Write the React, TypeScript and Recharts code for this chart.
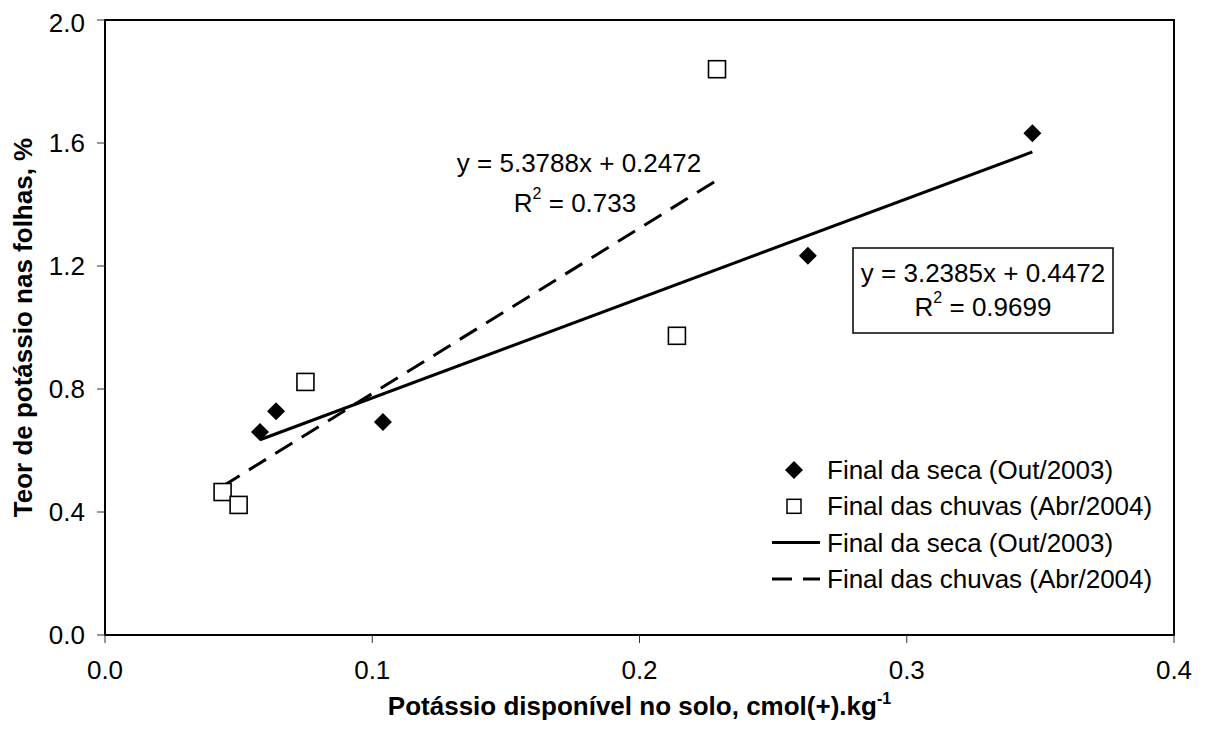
import { ComposedChart, Scatter, XAxis, YAxis, ReferenceArea } from 'recharts'

// leaf K (%) vs soil available K, two sampling dates
const secaX = [0.058, 0.064, 0.104, 0.263, 0.347]
const secaY = [0.66, 0.728, 0.693, 1.233, 1.632]
const chuvasX = [0.044, 0.05, 0.075, 0.214, 0.229]
const chuvasY = [0.465, 0.423, 0.823, 0.973, 1.84]

// linear trend coefficients [slope, intercept, r2]
const secaFit = [3.2385, 0.4472, 0.9699]
const chuvasFit = [5.3788, 0.2472, 0.733]

const xTicks = [0, 0.1, 0.2, 0.3, 0.4]
const yTicks = [0, 0.4, 0.8, 1.2, 1.6, 2.0]

const legendItems = [
  { label: 'Final da seca (Out/2003)', kind: 'diamond' },
  { label: 'Final das chuvas (Abr/2004)', kind: 'square' },
  { label: 'Final da seca (Out/2003)', kind: 'solid' },
  { label: 'Final das chuvas (Abr/2004)', kind: 'dashed' },
]

const FONT = '"Liberation Sans", Arial, sans-serif'
const FS = 26
const DASH = '20 11'

const toPoints = (xs: number[], ys: number[]) => xs.map((x, i) => ({ x, y: ys[i] }))

const trend = (xs: number[], fit: number[]) => {
  const lo = Math.min(...xs)
  const hi = Math.max(...xs)
  return [lo, hi].map((x) => ({ x, y: fit[0] * x + fit[1] }))
}

const Diamond = (props: any) => {
  const { cx, cy } = props
  const r = 9
  return <polygon points={`${cx},${cy - r} ${cx + r},${cy} ${cx},${cy + r} ${cx - r},${cy}`} fill="#000" />
}

const Square = (props: any) => {
  const { cx, cy } = props
  return <rect x={cx - 8.5} y={cy - 8.5} width={17} height={17} fill="#fff" stroke="#000" strokeWidth={1.6} />
}

const NoShape = () => <g />

const XTitle = (props: any) => {
  const { viewBox } = props
  const cx = viewBox.x + viewBox.width / 2
  return (
    <text x={cx} y={viewBox.y + 80} textAnchor="middle" fontFamily={FONT} fontWeight="bold" fontSize={FS} fill="#000">
      Potássio disponível no solo, cmol(+).kg
      <tspan fontSize={16} dy={-11}>-1</tspan>
    </text>
  )
}

const YTitle = (props: any) => {
  const { viewBox } = props
  const cy = viewBox.y + viewBox.height / 2
  const x = 15
  return (
    <text x={x} y={cy} transform={`rotate(-90 ${x} ${cy})`} textAnchor="middle" dominantBaseline="central"
      fontFamily={FONT} fontWeight="bold" fontSize={FS} fill="#000">
      Teor de potássio nas folhas, %
    </text>
  )
}

const LegendBox = () => (
  <g transform="translate(757, 442)">
    {legendItems.map((it, i) => {
      const y = 20 + i * 36.3
      return (
        <g key={i}>
          {it.kind === 'diamond' && <Diamond cx={29} cy={y} />}
          {it.kind === 'square' && <rect x={22} y={y - 7} width={14} height={14} fill="#fff" stroke="#000" strokeWidth={1.5} />}
          {it.kind === 'solid' && <line x1={7} x2={55} y1={y} y2={y} stroke="#000" strokeWidth={3} />}
          {it.kind === 'dashed' && <line x1={7} x2={55} y1={y} y2={y} stroke="#000" strokeWidth={3} strokeDasharray={DASH} />}
          <text x={62} y={y} dominantBaseline="central" fontFamily={FONT} fontSize={FS} fill="#000">{it.label}</text>
        </g>
      )
    })}
  </g>
)

const tickStyle = { fontFamily: FONT, fontSize: FS, fill: '#000' }

export default function App() {
  return (
    <div style={{ width: 1197, height: 723, background: '#fff' }}>
      <ComposedChart width={1197} height={723} margin={{ top: 12, right: 31, bottom: 0, left: 0 }}>
        <XAxis
          type="number"
          dataKey="x"
          domain={[0, 0.4]}
          ticks={xTicks}
          tickFormatter={(v: number) => v.toFixed(1)}
          tick={tickStyle}
          tickSize={8}
          tickMargin={18}
          height={96}
          axisLine={{ stroke: '#000', strokeWidth: 2 }}
          tickLine={{ stroke: '#333', strokeWidth: 1 }}
          label={<XTitle />}
        />
        <YAxis
          type="number"
          dataKey="y"
          domain={[0, 2]}
          ticks={yTicks}
          tickFormatter={(v: number) => v.toFixed(1)}
          tick={tickStyle}
          tickSize={8}
          tickMargin={12}
          width={97}
          axisLine={{ stroke: '#000', strokeWidth: 2 }}
          tickLine={{ stroke: '#333', strokeWidth: 1 }}
          label={<YTitle />}
        />
        <ReferenceArea x1={0} x2={0.4} y1={0} y2={2} fill="none" stroke="#000" strokeWidth={2} />
        <Scatter
          name="Final da seca (Out/2003) trend"
          data={trend(secaX, secaFit)}
          line={{ stroke: '#000', strokeWidth: 3 }}
          shape={NoShape}
          isAnimationActive={false}
        />
        <Scatter
          name="Final das chuvas (Abr/2004) trend"
          data={trend(chuvasX, chuvasFit)}
          line={{ stroke: '#000', strokeWidth: 3, strokeDasharray: DASH }}
          shape={NoShape}
          isAnimationActive={false}
        />
        <Scatter name="Final da seca (Out/2003)" data={toPoints(secaX, secaY)} shape={Diamond} isAnimationActive={false} />
        <Scatter name="Final das chuvas (Abr/2004)" data={toPoints(chuvasX, chuvasY)} shape={Square} isAnimationActive={false} />

        <LegendBox />

        <g fontFamily={FONT} fontSize={FS} fill="#000" textAnchor="middle">
          <text x={571} y={155} dominantBaseline="central">
            y = {chuvasFit[0].toFixed(4)}x + {chuvasFit[1].toFixed(4)}
          </text>
          <text x={567} y={195} dominantBaseline="central">
            R<tspan fontSize={16} dy={-10}>2</tspan><tspan dy={10}> = {chuvasFit[2]}</tspan>
          </text>
        </g>
        <g fontFamily={FONT} fontSize={FS} fill="#000" textAnchor="middle">
          <rect x={845} y={240} width={260} height={85} fill="#fff" stroke="#000" strokeWidth={1.5} />
          <text x={975} y={265} dominantBaseline="central">
            y = {secaFit[0].toFixed(4)}x + {secaFit[1].toFixed(4)}
          </text>
          <text x={975} y={299} dominantBaseline="central">
            R<tspan fontSize={16} dy={-10}>2</tspan><tspan dy={10}> = {secaFit[2]}</tspan>
          </text>
        </g>
      </ComposedChart>
    </div>
  )
}
